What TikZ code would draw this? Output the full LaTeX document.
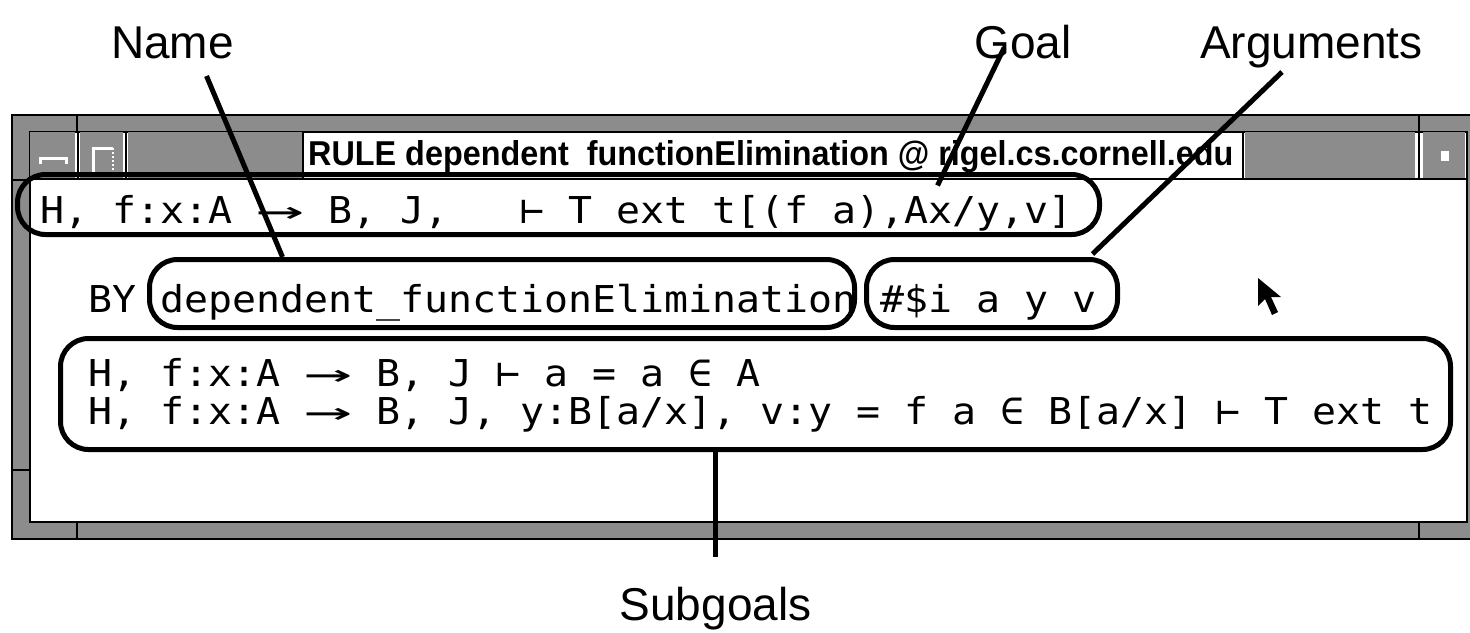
\documentclass[tikz,border=0pt]{standalone}
\usepackage{fontspec}
\usepackage{graphicx}
\setmainfont{Liberation Sans}
\newfontfamily\termfont{DejaVu Sans Mono}
\newcommand\dto{\scalebox{2}[1]{→}}
\newcommand\tline[1]{\scalebox{1.0775}[1]{#1}}
\begin{document}
\begin{tikzpicture}[x=1pt,y=-1pt,
    stip/.style={fill=black!45},
    rim/.style={draw=black,line width=1.5pt},
    callout/.style={draw=black,line width=5pt,rounded corners=28pt,inner sep=0pt},
    term/.style={anchor=base west,inner sep=0pt,text height=26pt,text depth=5pt,
      font=\termfont\fontsize{37pt}{38pt}\selectfont},
    tag/.style={anchor=base,inner sep=0pt,font=\fontsize{46pt}{46pt}\selectfont},
    leader/.style={line width=5pt}]
  \useasboundingbox (0,0) rectangle (1470,632);
  \clip (0,0) rectangle (1470,632);

  \filldraw[stip,rim] (12,115) rectangle (1490,539);
  \filldraw[fill=white,draw=black,line width=2.5pt] (30,132) rectangle (1467,522);
  \foreach \x in {77,1419} {
    \draw[line width=2pt] (\x,115) -- (\x,132);
    \draw[line width=2pt] (\x,522) -- (\x,539);
  }
  \foreach \y in {180,470}
    \draw[line width=2pt] (12,\y) -- (30,\y);

  \foreach \a\b in {30/75,80/123,128/302,1245/1415,1423/1465}
    \fill[stip] (\a,132) rectangle (\b,178);
  \foreach \x in {77.5,125.5,302.5,1242.5,1419}
    \draw[line width=2pt] (\x,132) -- (\x,178);
  \draw[line width=2pt] (30,179) -- (1467,179);
  \draw[white,line width=3pt] (40,164) -- (40,158) -- (66,158) -- (66,164);
  \draw[white,line width=3pt] (93,172) -- (93,148) -- (113,148);
  \draw[white,line width=2pt,dash pattern=on 2pt off 2pt] (113,148) -- (113,172);
  \fill[white] (1441,151) rectangle (1449,161);

  \node[anchor=base west,inner sep=0pt] (title) at (308,165)
    {\resizebox{925pt}{25pt}{\bfseries RULE dependent\ \ functionElimination @ rigel.cs.cornell.edu}};

  \node[term] (goal) at (40,223) {\tline{H, f:x:A \dto{} B, J,~~~⊢ T ext t[(f a),Ax/y,v]}};
  \node[term] (rule) at (88,312) {\tline{BY dependent\_functionElimination \#\$i a y v}};
  \node[term] (sub1) at (88,386) {\tline{H, f:x:A \dto{} B, J ⊢ a = a ∈ A}};
  \node[term] (sub2) at (88,424) {\tline{H, f:x:A \dto{} B, J, y:B[a/x], v:y = f a ∈ B[a/x] ⊢ T ext t}};

  \node[callout,minimum width=1082,minimum height=60] (goalbox) at (558.5,204.5) {};
  \node[callout,minimum width=705,minimum height=68] (namebox) at (502,293.5) {};
  \node[callout,minimum width=251,minimum height=68] (argsbox) at (992,293.5) {};
  \node[callout,minimum width=1390,minimum height=111] (subbox) at (755.5,394) {};

  \fill (1258,278) -- (1258,306) -- (1265,299) -- (1272,315) -- (1278,312) -- (1271,297) -- (1281,297) -- cycle;

  \node[tag] (lname) at (172.5,58) {Name};
  \node[tag] (lgoal) at (1023,58) {Goal};
  \node[tag] (largs) at (1311.5,58) {Arguments};
  \node[tag] (lsub) at (715.5,620) {Subgoals};

  \draw[leader] ([shift={(34,18)}]lname.base) -- ([xshift=135.5]namebox.north west);
  \draw[leader] ([shift={(-19,-10)}]lgoal.base) -- ([shift={(922.5,13.5)}]goalbox.north west);
  \draw[leader] ([shift={(-29.5,14)}]largs.base) -- ([shift={(-27.5,-3)}]argsbox.north east);
  \draw[leader] (subbox.south -| lsub.base) -- ([shift={(0,-63)}]lsub.base);
\end{tikzpicture}
\end{document}
